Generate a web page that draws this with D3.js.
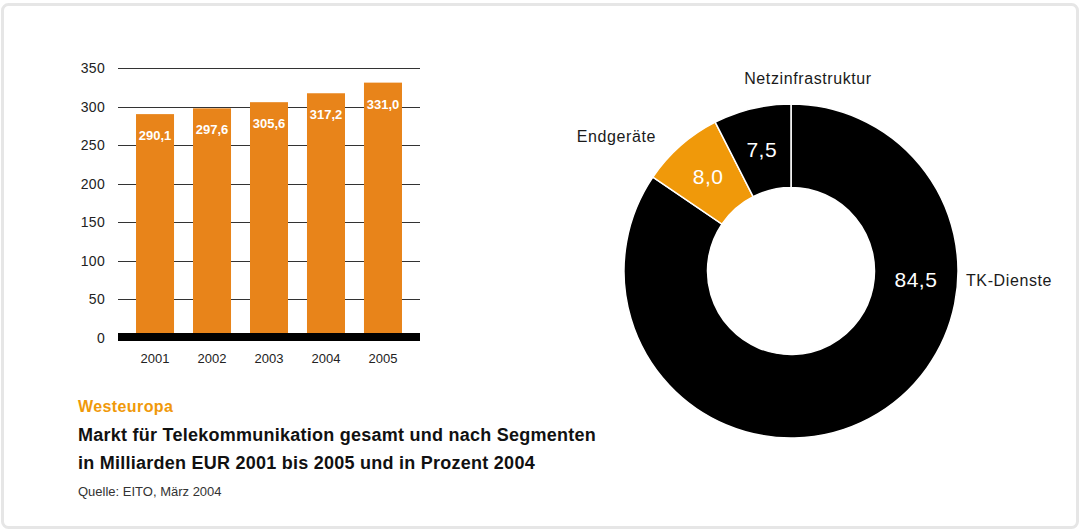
<!DOCTYPE html>
<html>
<head>
<meta charset="utf-8">
<script src="https://cdn.jsdelivr.net/npm/d3@7"></script>
<style>
  body { margin: 0; background: #fff; }
  svg { display: block; font-family: "Liberation Sans", Arial, sans-serif; }
</style>
</head>
<body>
<svg id="chart" width="1080" height="530"></svg>
<script>
// bar data: market in bn EUR
var years = ['2001', '2002', '2003', '2004', '2005'];
var marketValues = [290.1, 297.6, 305.6, 317.2, 331.0];
var yTicks = [0, 50, 100, 150, 200, 250, 300, 350];

// donut data: segments in percent 2004
var segments = ['TK-Dienste', 'Endgeräte', 'Netzinfrastruktur'];
var segmentShares = [84.5, 8.0, 7.5];
var segmentColors = ['#000000', '#f0990a', '#000000'];

var fmt = function(v) { return d3.format('.1f')(v).replace('.', ','); };

var svg = d3.select('#chart');

// frame
svg.append('rect')
    .attr('x', 2.5).attr('y', 4.5)
    .attr('width', 1075).attr('height', 523)
    .attr('rx', 6)
    .style('fill', '#fff')
    .attr('stroke', '#e6e6e6')
    .attr('stroke-width', 3);

// ---- bar chart ----
var x = d3.scaleBand()
    .domain(years)
    .range([126.5, 411.5])
    .paddingInner(0.333)
    .paddingOuter(0.167);

var y = d3.scaleLinear()
    .domain([0, 350])
    .range([337.5, 68]);

var grid = svg.append('g');
grid.selectAll('line')
    .data(yTicks.filter(function(t) { return t > 0; }))
  .enter().append('line')
    .attr('x1', 118).attr('x2', 420)
    .attr('y1', function(d) { return Math.round(y(d)) + 0.5; })
    .attr('y2', function(d) { return Math.round(y(d)) + 0.5; })
    .attr('stroke', '#333')
    .attr('stroke-width', 1);

grid.selectAll('text')
    .data(yTicks)
  .enter().append('text')
    .attr('x', 105)
    .attr('y', function(d) { return y(d) + 5; })
    .attr('text-anchor', 'end')
    .style('font-size', '14px')
    .style('letter-spacing', '0.3px')
    .style('fill', '#222')
    .text(function(d) { return d; });

svg.append('g').selectAll('rect')
    .data(marketValues)
  .enter().append('rect')
    .attr('x', function(d, i) { return x(years[i]); })
    .attr('width', x.bandwidth())
    .attr('y', function(d) { return y(d); })
    .attr('height', function(d) { return y(0) - y(d); })
    .style('fill', '#e8841a');

svg.append('g').selectAll('text')
    .data(marketValues)
  .enter().append('text')
    .attr('x', function(d, i) { return x(years[i]) + x.bandwidth() / 2; })
    .attr('y', function(d) { return y(d) + 26; })
    .attr('text-anchor', 'middle')
    .style('font-size', '13px')
    .style('font-weight', 'bold')
    .style('fill', '#fff')
    .text(fmt);

// thick baseline
svg.append('rect')
    .attr('x', 118).attr('width', 302)
    .attr('y', y(0) - 4.5).attr('height', 8)
    .style('fill', '#000');

svg.append('g').selectAll('text')
    .data(years)
  .enter().append('text')
    .attr('x', function(d) { return x(d) + x.bandwidth() / 2; })
    .attr('y', 363)
    .attr('text-anchor', 'middle')
    .style('font-size', '13px')
    .style('fill', '#222')
    .text(function(d) { return d; });

// captions
svg.append('text')
    .attr('x', 78).attr('y', 412)
    .style('font-size', '16px').style('font-weight', 'bold')
    .style('letter-spacing', '0.4px')
    .style('fill', '#f0990a')
    .text('Westeuropa');
svg.append('text')
    .attr('x', 78).attr('y', 441)
    .style('font-size', '18px').style('font-weight', 'bold')
    .style('letter-spacing', '0.25px')
    .style('fill', '#111')
    .text('Markt für Telekommunikation gesamt und nach Segmenten');
svg.append('text')
    .attr('x', 78).attr('y', 469)
    .style('font-size', '18px').style('font-weight', 'bold')
    .style('letter-spacing', '0.25px')
    .style('fill', '#111')
    .text('in Milliarden EUR 2001 bis 2005 und in Prozent 2004');
svg.append('text')
    .attr('x', 78).attr('y', 496)
    .style('font-size', '13px')
    .style('fill', '#333')
    .text('Quelle: EITO, März 2004');

// ---- donut ----
var cx = 791, cy = 271, rOuter = 167, rInner = 83.5;
var pie = d3.pie().sort(null).value(function(d) { return d; });
var arcs = pie(segmentShares);
var arc = d3.arc().innerRadius(rInner).outerRadius(rOuter);

var donut = svg.append('g')
    .attr('transform', 'translate(' + cx + ',' + cy + ')');

donut.selectAll('path')
    .data(arcs)
  .enter().append('path')
    .attr('d', arc)
    .style('fill', function(d, i) { return segmentColors[i]; })
    .attr('stroke', '#fff')
    .attr('stroke-width', 1.5);

donut.selectAll('text.val')
    .data(arcs)
  .enter().append('text')
    .attr('class', 'val')
    .attr('transform', function(d) {
      // the big slice gets its label at 3 o'clock
      if (d.endAngle - d.startAngle > Math.PI) {
        var a = Math.PI / 2 + 0.07, r = (rInner + rOuter) / 2;
        return 'translate(' + (r * Math.sin(a)) + ',' + (-r * Math.cos(a)) + ')';
      }
      return 'translate(' + arc.centroid(d) + ')';
    })
    .attr('dy', '0.35em')
    .attr('text-anchor', 'middle')
    .style('font-size', '21px')
    .style('letter-spacing', '0.5px')
    .style('fill', '#fff')
    .text(function(d) { return fmt(d.data); });

// outside names
var names = [
  { t: segments[0], x: 966, y: 286, a: 'start' },
  { t: segments[1], x: 656, y: 142, a: 'end' },
  { t: segments[2], x: 808, y: 84, a: 'middle' }
];
svg.append('g').selectAll('text')
    .data(names)
  .enter().append('text')
    .attr('x', function(d) { return d.x; })
    .attr('y', function(d) { return d.y; })
    .attr('text-anchor', function(d) { return d.a; })
    .style('font-size', '16px')
    .style('letter-spacing', '0.6px')
    .style('fill', '#1a1a1a')
    .text(function(d) { return d.t; });
</script>
</body>
</html>
